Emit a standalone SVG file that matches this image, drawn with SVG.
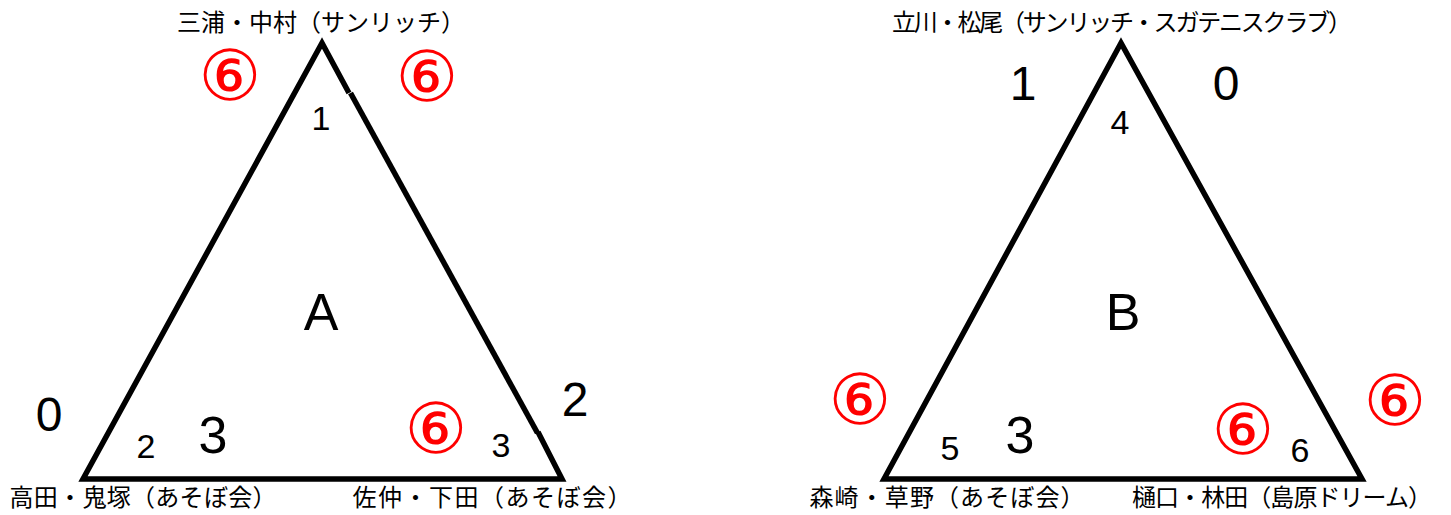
<svg xmlns="http://www.w3.org/2000/svg" width="1451" height="515" viewBox="0 0 1451 515">
<style>
.name{font-family:"Noto Sans CJK JP","Noto Sans",sans-serif;font-size:24px;fill:#000;text-anchor:middle}
.num{font-family:"Liberation Sans",Arial,sans-serif;fill:#000;text-anchor:middle}
.big{font-size:48px}
.sm{font-size:34px}
.grp{font-family:"Liberation Sans",Arial,sans-serif;font-size:52px;fill:#000;text-anchor:middle}
.win{font-family:"DejaVu Sans","Noto Sans CJK JP",sans-serif;font-size:70px;fill:#FF0000;text-anchor:middle}
.edge{fill:none;stroke:#000;stroke-width:5.5;stroke-linecap:butt;stroke-linejoin:miter}
</style>
<rect width="1451" height="515" fill="#fff"/>
<g id="connectors">
  <g id="triangle-A">
    <polyline class="edge" points="349,93 322,43 83,479 562,479 538,432"/>
    <line class="edge" x1="350.5" y1="93" x2="537.5" y2="433"/>
  </g>
  <g id="triangle-B">
    <polygon class="edge" points="1121,43 884,479 1362,479"/>
  </g>
</g>
<g id="group-A">
  <text class="grp" x="321" y="330">A</text>
</g>
<g id="group-B">
  <text class="grp" x="1123" y="330">B</text>
</g>
<g id="A1">
  <text class="name" x="321" y="31" textLength="288">三浦・中村（サンリッチ）</text>
  <text class="num sm" x="321" y="130">1</text>
  <text class="win" x="230" y="100">⑥</text>
  <text class="win" x="427" y="101">⑥</text>
</g>
<g id="A2">
  <text class="name" x="143" y="506" textLength="267">高田・鬼塚（あそぼ会）</text>
  <text class="num sm" x="146" y="458">2</text>
  <text class="num big" x="49" y="431">0</text>
  <text class="num big" x="213" y="453" style="font-size:52px">3</text>
</g>
<g id="A3">
  <text class="name" x="492" y="506" textLength="279">佐仲・下田（あそぼ会）</text>
  <text class="num sm" x="501" y="457">3</text>
  <text class="num big" x="575" y="416">2</text>
  <text class="win" x="436" y="453">⑥</text>
</g>
<g id="B4">
  <text class="name" x="1122" y="31" textLength="460">立川・松尾（サンリッチ・スガテニスクラブ）</text>
  <text class="num sm" x="1120" y="134">4</text>
  <text class="num big" x="1023" y="100">1</text>
  <text class="num big" x="1226" y="100">0</text>
</g>
<g id="B5">
  <text class="name" x="947" y="506" textLength="275">森崎・草野（あそぼ会）</text>
  <text class="num sm" x="950" y="460">5</text>
  <text class="num big" x="1020" y="453" style="font-size:52px">3</text>
  <text class="win" x="860" y="424">⑥</text>
</g>
<g id="B6">
  <text class="name" x="1282" y="506" textLength="300">樋口・林田（島原ドリーム）</text>
  <text class="num sm" x="1300" y="462">6</text>
  <text class="win" x="1243" y="454">⑥</text>
  <text class="win" x="1395" y="425">⑥</text>
</g>
</svg>
